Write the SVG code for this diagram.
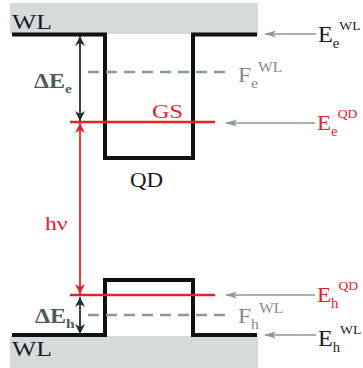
<svg xmlns="http://www.w3.org/2000/svg" width="363" height="368" viewBox="0 0 363 368">
<defs>
<style>
.t{font-family:"Liberation Serif","Times New Roman",serif;}
.blk{fill:#1a1a1a;}
.red{fill:#e42228;}
.gry{fill:#7f8c8c;}
.dk{fill:#4c5c5c;}
.well{fill:none;stroke:#111;stroke-width:4;stroke-linejoin:miter;}
.lvl{stroke:#e42228;stroke-width:2.5;}
.dash{stroke:#8c9898;stroke-width:2.5;stroke-dasharray:11 7;}
.ptr{stroke:#8a9a9a;stroke-width:1.6;marker-end:url(#ga);}
</style>
<marker id="ga" viewBox="0 0 12 8" refX="11" refY="4" markerWidth="12" markerHeight="8" markerUnits="userSpaceOnUse" orient="auto">
<path d="M0,0.5 L12,4 L0,7.5 L3,4 Z" fill="#8a9a9a"/>
</marker>
<marker id="da" viewBox="0 0 10 12" refX="10" refY="5" markerWidth="10" markerHeight="12" markerUnits="userSpaceOnUse" orient="auto-start-reverse">
<path d="M0,0 L10,5 L0,10 L3,5 Z" fill="#1c3030"/>
</marker>
<marker id="ra" viewBox="0 0 10 12" refX="10" refY="5" markerWidth="10" markerHeight="12" markerUnits="userSpaceOnUse" orient="auto-start-reverse">
<path d="M0,0 L10,5 L0,10 L3,5 Z" fill="#e42228"/>
</marker>
</defs>
<g id="background">
<rect x="10" y="3" width="248" height="31" fill="#d5dbdb"/>
<rect x="10" y="336" width="248" height="32" fill="#d5dbdb"/>
</g>
<g id="conduction-band">
<path class="well" d="M12,34.5 H105 V158 H193 V34.5 H257"/>
<g transform="translate(12,29) scale(1.22,1)"><text class="t blk" font-size="21">WL</text></g>
<g transform="translate(130,187) scale(1.15,1)"><text class="t blk" font-size="20">QD</text></g>
</g>
<g id="valence-band">
<path class="well" d="M12,335 H105 V280 H193 V335 H257"/>
<g transform="translate(12,356) scale(1.22,1)"><text class="t blk" font-size="21">WL</text></g>
</g>
<g id="levels">
<line class="dash" x1="88" y1="72" x2="228" y2="72"/>
<line class="dash" x1="88" y1="315" x2="228" y2="315"/>
<line class="lvl" x1="70" y1="122" x2="215" y2="122"/>
<line class="lvl" x1="70" y1="295" x2="215" y2="295"/>
<g transform="translate(152,118) scale(1.28,1)"><text class="t red" font-size="19">GS</text></g>
</g>
<g id="connectors">
<line x1="80" y1="36" x2="80" y2="121" stroke="#1c3030" stroke-width="1.8" marker-start="url(#da)" marker-end="url(#da)"/>
<line x1="80" y1="297" x2="80" y2="334" stroke="#1c3030" stroke-width="1.8" marker-start="url(#da)" marker-end="url(#da)"/>
<line x1="80" y1="123" x2="80" y2="294" stroke="#e42228" stroke-width="1.8" marker-start="url(#ra)" marker-end="url(#ra)"/>
<line class="ptr" x1="316" y1="34" x2="265" y2="34"/>
<line class="ptr" x1="315" y1="123" x2="226" y2="123"/>
<line class="ptr" x1="315" y1="295" x2="226" y2="295"/>
<line class="ptr" x1="316" y1="335" x2="265" y2="335"/>
</g>
<g id="labels">
<g transform="translate(34,88) scale(1.2,1)"><text class="t dk" font-size="20" font-weight="bold">ΔE<tspan font-size="13" dy="5">e</tspan></text></g>
<g transform="translate(35,323) scale(1.2,1)"><text class="t dk" font-size="20" font-weight="bold">ΔE<tspan font-size="13" dy="5">h</tspan></text></g>
<g transform="translate(45,230) scale(1.25,1)"><text class="t red" font-size="19">hν</text></g>
<g transform="translate(318,42) scale(1.05,1)"><text class="t blk" font-size="23">E<tspan font-size="14" dy="6">e</tspan><tspan font-size="13" dy="-18">WL</tspan></text></g>
<g transform="translate(238,82) scale(1.12,1)"><text class="t gry" font-size="21">F<tspan font-size="14" dy="6">e</tspan><tspan font-size="14" dy="-16">WL</tspan></text></g>
<g transform="translate(317,130) scale(1.05,1)"><text class="t red" font-size="22">E<tspan font-size="14" dy="6">e</tspan><tspan font-size="13" dy="-18">QD</tspan></text></g>
<g transform="translate(317,302) scale(1.05,1)"><text class="t red" font-size="22">E<tspan font-size="14" dy="6">h</tspan><tspan font-size="13" dy="-18">QD</tspan></text></g>
<g transform="translate(238,323) scale(1.12,1)"><text class="t gry" font-size="21">F<tspan font-size="14" dy="6">h</tspan><tspan font-size="14" dy="-16">WL</tspan></text></g>
<g transform="translate(318,346) scale(1.05,1)"><text class="t blk" font-size="23">E<tspan font-size="14" dy="6">h</tspan><tspan font-size="13" dy="-18">WL</tspan></text></g>
</g>
</svg>
